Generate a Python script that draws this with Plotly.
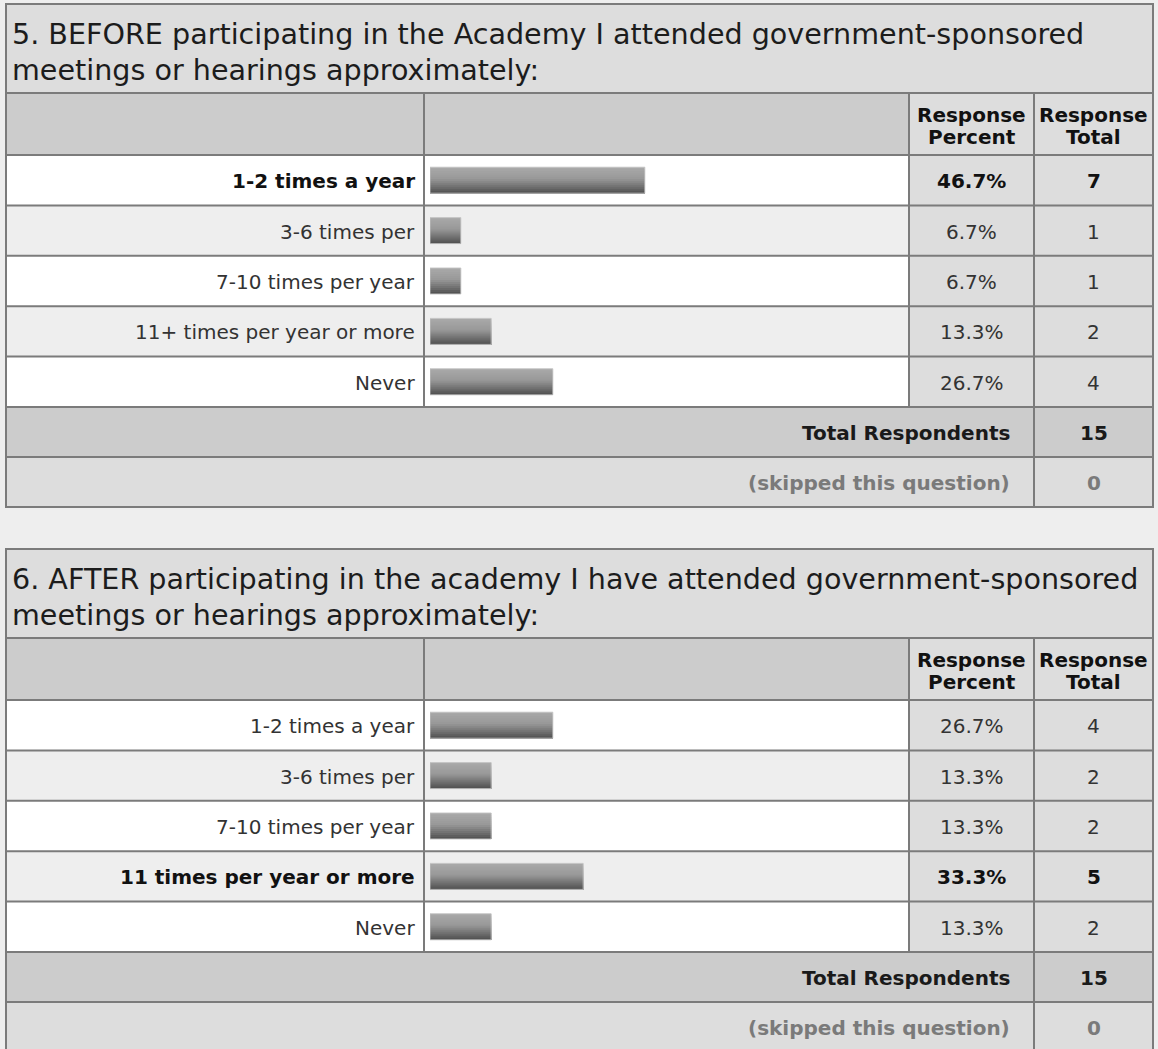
import plotly.graph_objects as go

# ---------------- data ----------------
titles = [
    ["5. BEFORE participating in the Academy I attended government-sponsored",
     "meetings or hearings approximately:"],
    ["6. AFTER participating in the academy I have attended government-sponsored",
     "meetings or hearings approximately:"],
]
categories_before = ["1-2 times a year", "3-6 times per", "7-10 times per year",
                     "11+ times per year or more", "Never"]
percent_before = [46.7, 6.7, 6.7, 13.3, 26.7]
count_before = [7, 1, 1, 2, 4]

categories_after = ["1-2 times a year", "3-6 times per", "7-10 times per year",
                    "11 times per year or more", "Never"]
percent_after = [26.7, 13.3, 13.3, 33.3, 13.3]
count_after = [4, 2, 2, 5, 2]

total_respondents = [15, 15]
skipped_question = [0, 0]

header_percent = ["Response", "Percent"]
header_total = ["Response", "Total"]
total_label = "Total Respondents"
skipped_label = "(skipped this question)"

# ---------------- layout constants (pixels) ----------------
W, H = 1158, 1049
FONT = "DejaVu Sans"
L, C1, C2, C3, R = 6, 424, 909, 1034, 1153
TABLE_OFFSETS = [0, 545]
TITLE_TOP, TITLE_BOT, HEAD_BOT = 4, 93, 155
PITCH = 50.4
BAR_X0, BAR_X1 = 430, 890   # pixel span of 0..100 %
BAR_H = 26
LINE_COL = "#7b7b7b"


def X(px):
    return px / W


def Y(py):
    return 1 - py / H


shapes = []
annotations = []


def rect(x0, y0, x1, y1, color):
    shapes.append(dict(type="rect", xref="paper", yref="paper",
                       x0=X(x0), x1=X(x1), y0=Y(y1), y1=Y(y0),
                       fillcolor=color, line=dict(width=0), layer="below"))


def hline(y, x0=L, x1=R):
    shapes.append(dict(type="line", xref="paper", yref="paper",
                       x0=X(x0 - 1), x1=X(x1 + 1), y0=Y(y), y1=Y(y),
                       line=dict(color=LINE_COL, width=2), layer="below"))


def vline(x, y0, y1):
    shapes.append(dict(type="line", xref="paper", yref="paper",
                       x0=X(x), x1=X(x), y0=Y(y0 - 1), y1=Y(y1 + 1),
                       line=dict(color=LINE_COL, width=2), layer="below"))


def text(x, y, s, size=20, color="#333333", anchor="center", bold=False):
    annotations.append(dict(xref="paper", yref="paper", x=X(x), y=Y(y),
                            text=f"<b>{s}</b>" if bold else s,
                            showarrow=False, xanchor=anchor, yanchor="middle",
                            font=dict(family=FONT, size=size, color=color)))


# gradient for the bars (style only)
N_STRIPS = 13
stops = [(0.0, 0xa9), (0.45, 0x98), (1.0, 0x4f)]


def grad(t):
    for (t0, v0), (t1, v1) in zip(stops[:-1], stops[1:]):
        if t <= t1:
            v = int(round(v0 + (v1 - v0) * (t - t0) / (t1 - t0)))
            return f"rgb({v},{v},{v})"
    v = stops[-1][1]
    return f"rgb({v},{v},{v})"


fig = go.Figure()

tables = [
    (categories_before, percent_before, count_before),
    (categories_after, percent_after, count_after),
]

for ti, (cats, pcts, counts) in enumerate(tables):
    off = TABLE_OFFSETS[ti]
    top = TITLE_TOP + off
    tbot = TITLE_BOT + off
    hbot = HEAD_BOT + off
    n = len(cats)
    row_edges = [hbot + PITCH * k for k in range(n + 1)]
    data_bot = row_edges[-1]
    tot_bot = data_bot + 50
    skip_bot = tot_bot + 50

    # fills
    rect(L, top, R, tbot, "#dddddd")
    rect(L, tbot, C2, hbot, "#cccccc")
    rect(C2, tbot, R, hbot, "#dddddd")
    for k in range(n):
        rect(L, row_edges[k], C2, row_edges[k + 1], "#ffffff" if k % 2 == 0 else "#eeeeee")
        rect(C2, row_edges[k], R, row_edges[k + 1], "#dddddd")
    rect(L, data_bot, R, tot_bot, "#cccccc")
    rect(L, tot_bot, R, skip_bot, "#dddddd")

    # grid lines
    for yy in [top, tbot, hbot] + row_edges[1:] + [tot_bot, skip_bot]:
        hline(yy)
    vline(L, top, skip_bot)
    vline(R, top, skip_bot)
    vline(C1, tbot, data_bot)
    vline(C2, tbot, data_bot)
    vline(C3, tbot, skip_bot)

    # title
    text(10, top + 30, titles[ti][0], size=28.6, color="#1c1c1c", anchor="left")
    text(10, top + 66, titles[ti][1], size=28.6, color="#1c1c1c", anchor="left")

    # header
    cx_p = (C2 + C3) / 2
    cx_t = (C3 + R) / 2
    text(cx_p, tbot + 22, header_percent[0], size=20, color="#111111", bold=True)
    text(cx_p, tbot + 44, header_percent[1], size=20, color="#111111", bold=True)
    text(cx_t, tbot + 22, header_total[0], size=20, color="#111111", bold=True)
    text(cx_t, tbot + 44, header_total[1], size=20, color="#111111", bold=True)

    # rows
    best = max(range(n), key=lambda k: pcts[k])
    for k in range(n):
        cy = (row_edges[k] + row_edges[k + 1]) / 2 + 1
        b = (k == best)
        col = "#111111" if b else "#333333"
        text(C1 - 7, cy, cats[k], size=20, color=col, anchor="right", bold=b)
        text(cx_p, cy, f"{pcts[k]:.1f}%", size=20, color=col, bold=b)
        text(cx_t, cy, str(counts[k]), size=20, color=col, bold=b)

    text(C3 - 22, (data_bot + tot_bot) / 2 + 1, total_label, size=20, color="#1a1a1a",
         anchor="right", bold=True)
    text(cx_t, (data_bot + tot_bot) / 2 + 1, str(total_respondents[ti]), size=20,
         color="#1a1a1a", bold=True)
    text(C3 - 22, (tot_bot + skip_bot) / 2 + 1, skipped_label, size=20, color="#7a7a7a",
         anchor="right", bold=True)
    text(cx_t, (tot_bot + skip_bot) / 2 + 1, str(skipped_question[ti]), size=20,
         color="#7a7a7a", bold=True)

    # bars: gradient made of overlapping strips (each runs to the bar's bottom)
    xa = "x" if ti == 0 else "x2"
    ya = "y" if ti == 0 else "y2"
    unit = BAR_H / PITCH
    sw = unit / N_STRIPS
    for s in range(N_STRIPS):
        fig.add_trace(go.Bar(
            x=pcts, y=cats, orientation="h",
            width=unit - s * sw, offset=-unit / 2 + s * sw,
            marker=dict(color=grad((s + 0.5) / N_STRIPS), line=dict(width=0)),
            hoverinfo="skip", showlegend=False, xaxis=xa, yaxis=ya))
    fig.add_trace(go.Bar(
        x=pcts, y=cats, orientation="h", width=unit, offset=-unit / 2,
        marker=dict(color="rgba(0,0,0,0)", line=dict(width=1, color="rgba(195,195,195,0.9)")),
        hoverinfo="skip", showlegend=False, xaxis=xa, yaxis=ya))

    dom_y = [Y(data_bot), Y(hbot)]
    axis_x = dict(domain=[X(BAR_X0), X(BAR_X1)], range=[0, 100], visible=False,
                  fixedrange=True, anchor=ya)
    axis_y = dict(domain=dom_y, type="category", categoryorder="array",
                  categoryarray=cats, range=[n - 0.5, -0.5], visible=False,
                  fixedrange=True, anchor=xa)
    if ti == 0:
        fig.update_layout(xaxis=axis_x, yaxis=axis_y)
    else:
        fig.update_layout(xaxis2=axis_x, yaxis2=axis_y)

fig.update_layout(
    width=W, height=H,
    margin=dict(l=0, r=0, t=0, b=0),
    paper_bgcolor="#eeeeee",
    plot_bgcolor="rgba(0,0,0,0)",
    barmode="overlay",
    shapes=shapes,
    annotations=annotations,
    showlegend=False,
)

fig.write_html("out.html", config={"displayModeBar": False},
               post_script="document.body.style.margin='0';document.body.style.overflow='hidden';")
